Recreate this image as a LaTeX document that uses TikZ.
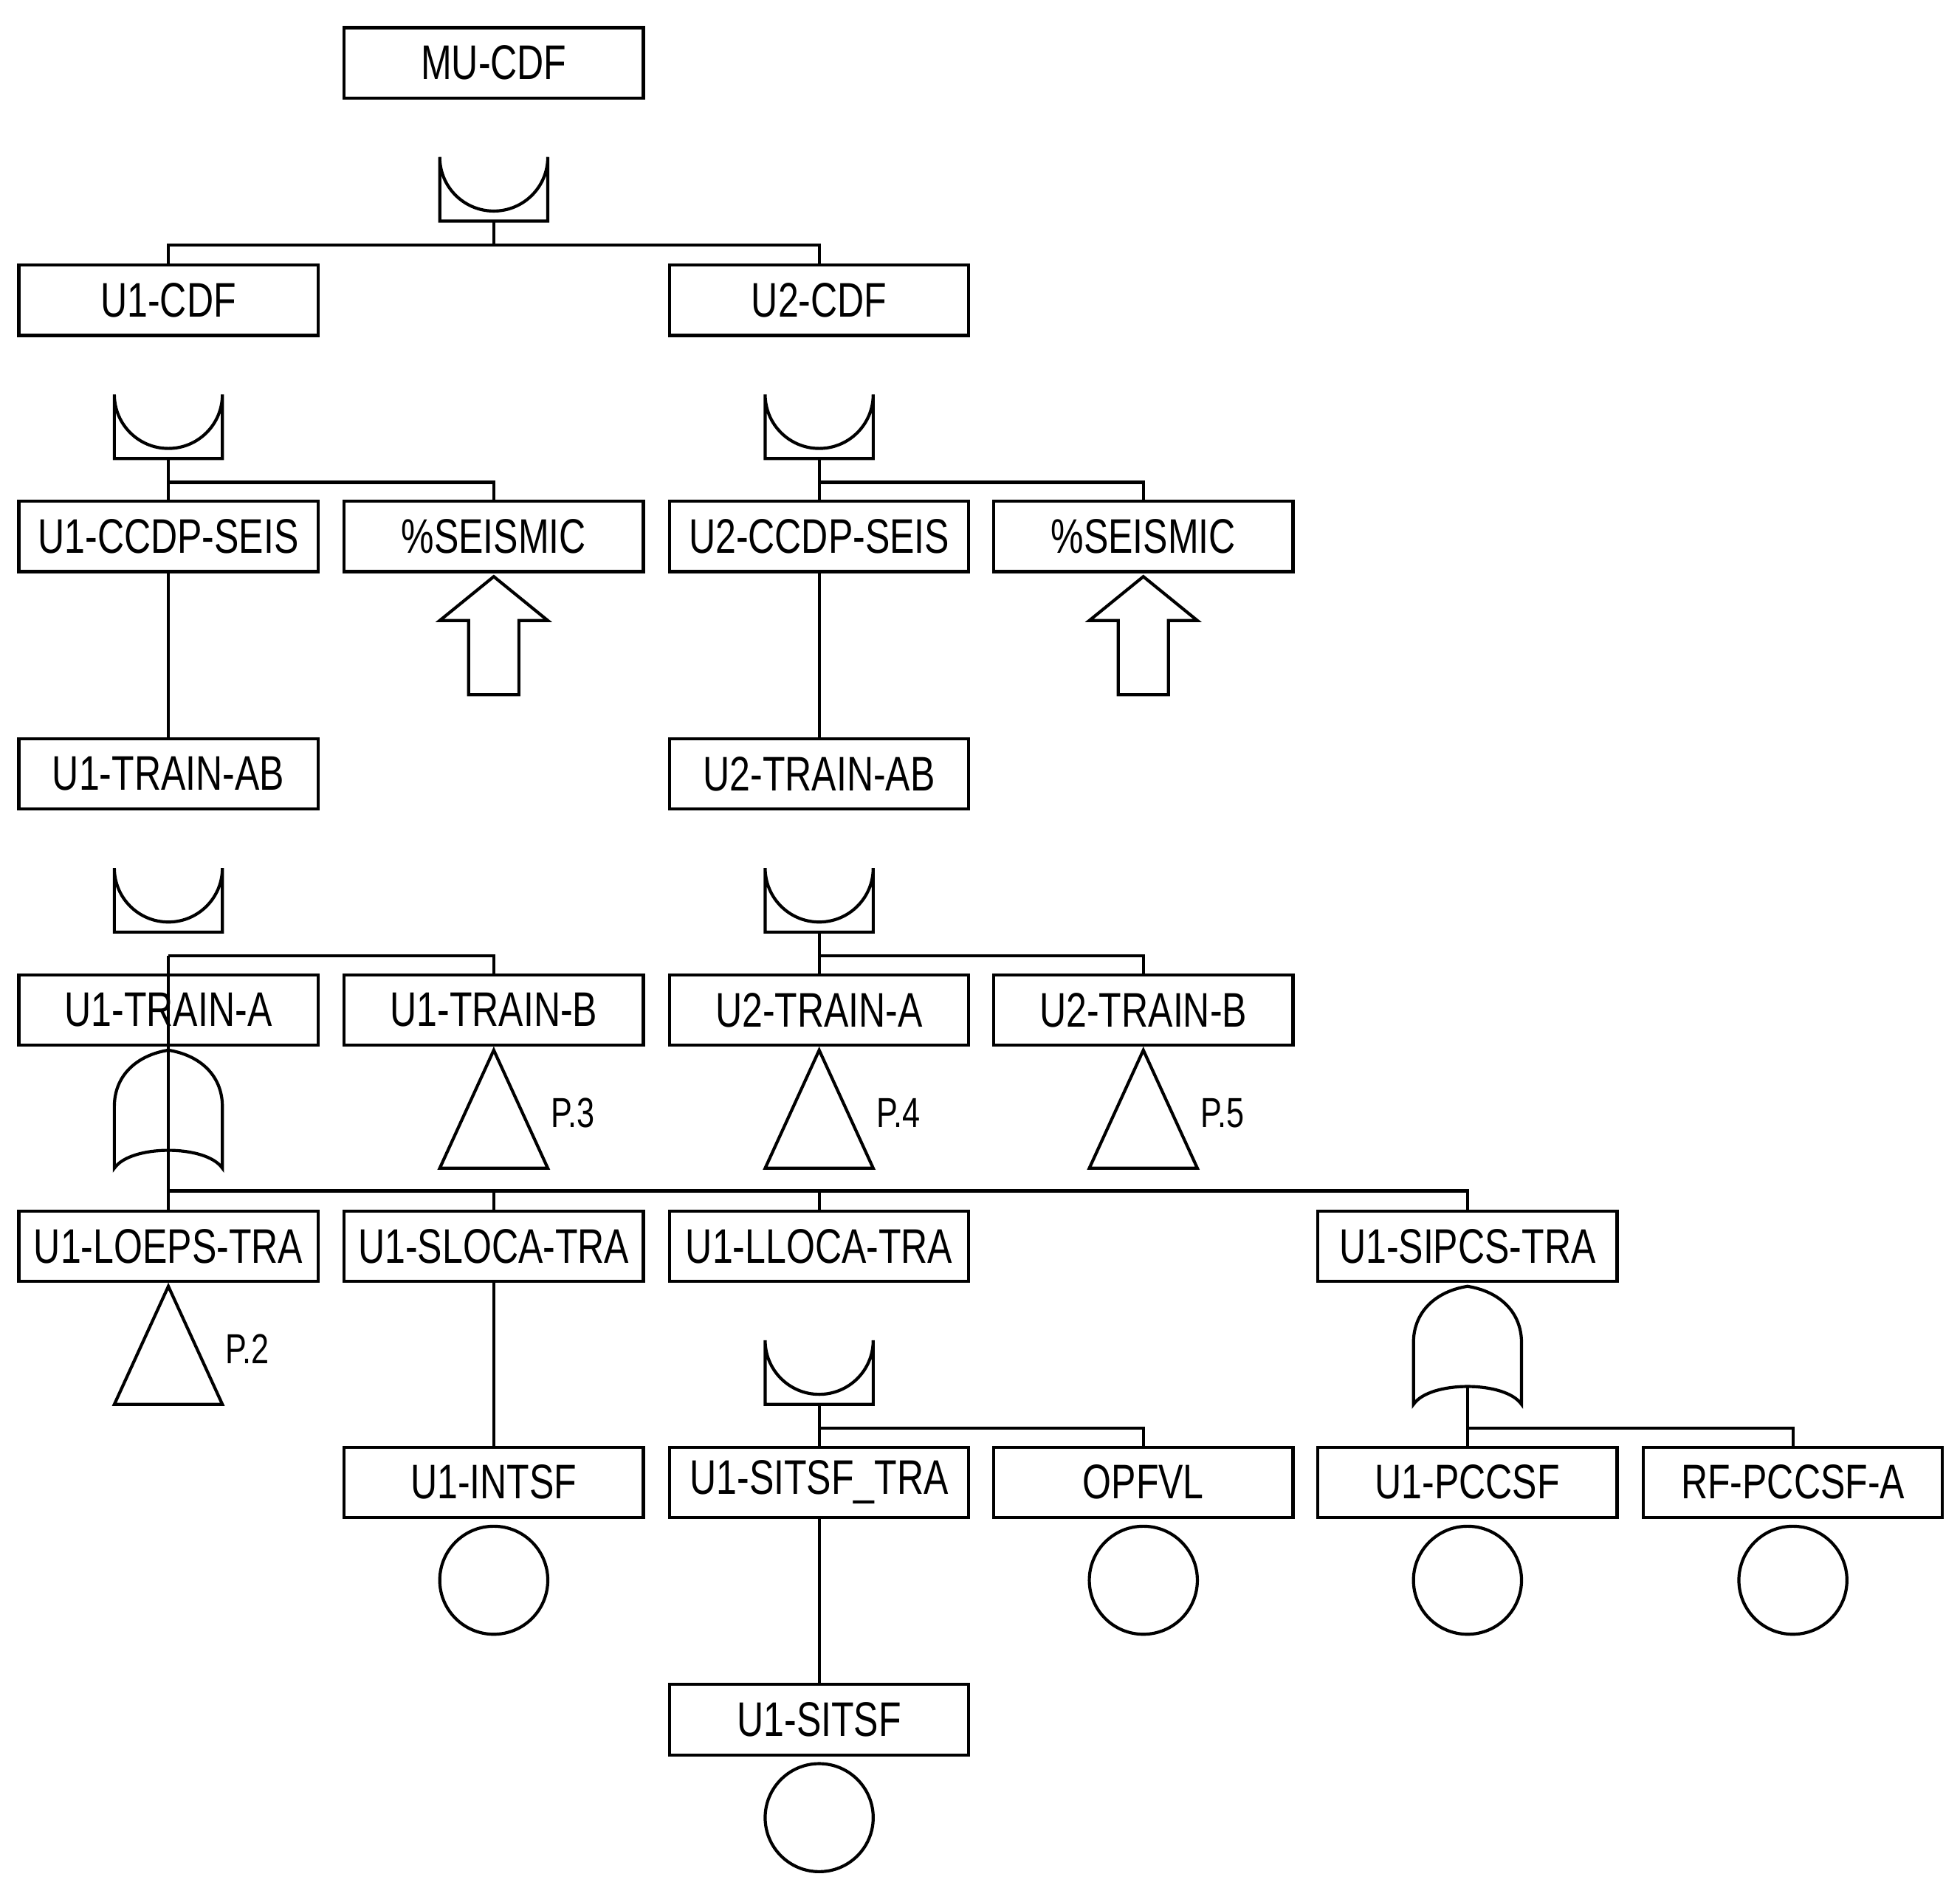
\documentclass[tikz,border=0pt]{standalone}
\usepackage{fontspec}
\setmainfont{Liberation Sans}[FakeStretch=0.76]
\begin{document}
\begin{tikzpicture}[x=0.01cm,y=-0.01cm,line width=0.7pt,
  box/.style={draw,rectangle,minimum width=2.38cm,minimum height=0.56cm,inner sep=0pt,font=\fontsize{11}{13}\selectfont,fill=white},
  lbl/.style={font=\fontsize{9.5}{11}\selectfont,anchor=center}]
\useasboundingbox (0,0) rectangle (1560,1514);
% gate macros: #1 x centre, #2 box top, #3 name
\newcommand\myAND[3]{\draw (#1-43,#2+154) -- (#1-43,#2+103) arc[start angle=180,end angle=0,radius=43] -- (#1+43,#2+154) -- cycle; \coordinate (#3) at (#1,#2+154); \coordinate (#3b) at (#1,#2+173);}
\newcommand\myOR[3]{\draw (#1-43,#2+154) -- (#1-43,#2+105) .. controls (#1-43,#2+80) and (#1-25,#2+64) .. (#1,#2+60) .. controls (#1+25,#2+64) and (#1+43,#2+80) .. (#1+43,#2+105) -- (#1+43,#2+154) .. controls (#1+30,#2+135) and (#1-30,#2+135) .. cycle; \coordinate (#3) at (#1,#2+140); \coordinate (#3b) at (#1,#2+173);}
\newcommand\myTRI[4]{\draw (#1,#2+60) -- (#1+43,#2+154) -- (#1-43,#2+154) -- cycle; \node[lbl] (#3) at (#1+63,#2+110) {#4};}
\newcommand\myXFER[2]{\draw (#1,#2+60) -- (#1+43,#2+95) -- (#1+20,#2+95) -- (#1+20,#2+154) -- (#1-20,#2+154) -- (#1-20,#2+95) -- (#1-43,#2+95) -- cycle;}
\newcommand\myCIRC[2]{\draw (#1,#2+106) circle[radius=43];}
% boxes
\node[box] (mu) at (393,50) {MU-CDF};
\node[box] (u1cdf) at (134,239) {U1-CDF};
\node[box] (u2cdf) at (652,239) {U2-CDF};
\node[box] (u1ccdp) at (134,427) {U1-CCDP-SEIS};
\node[box] (s1) at (393,427) {\%SEISMIC};
\node[box] (u2ccdp) at (652,427) {U2-CCDP-SEIS};
\node[box] (s2) at (910,427) {\%SEISMIC};
\node[box] (u1ab) at (134,616) {U1-TRAIN-AB};
\node[box] (u2ab) at (652,616) {U2-TRAIN-AB};
\node[box] (u1a) at (134,804) {U1-TRAIN-A};
\node[box] (u1b) at (393,804) {U1-TRAIN-B};
\node[box] (u2a) at (652,804) {U2-TRAIN-A};
\node[box] (u2b) at (910,804) {U2-TRAIN-B};
\node[box] (loeps) at (134,992) {U1-LOEPS-TRA};
\node[box] (sloca) at (393,992) {U1-SLOCA-TRA};
\node[box] (lloca) at (652,992) {U1-LLOCA-TRA};
\node[box] (sipcs) at (1168,992) {U1-SIPCS-TRA};
\node[box] (intsf) at (393,1180) {U1-INTSF};
\node[box] (sitsft) at (652,1180) {U1-SITSF\_TRA};
\node[box] (opfvl) at (910,1180) {OPFVL};
\node[box] (pccsf) at (1168,1180) {U1-PCCSF};
\node[box] (rf) at (1427,1180) {RF-PCCSF-A};
\node[box] (sitsf) at (652,1369) {U1-SITSF};
% gates
\myAND{393}{22}{gmu}
\myAND{134}{211}{gu1}
\myAND{652}{211}{gu2}
\myXFER{393}{399}
\myXFER{910}{399}
\myAND{134}{588}{gu1ab}
\myAND{652}{588}{gu2ab}
\myOR{134}{776}{gu1a}
\myTRI{393}{776}{p3}{P.3}
\myTRI{652}{776}{p4}{P.4}
\myTRI{910}{776}{p5}{P.5}
\myTRI{134}{964}{p2}{P.2}
\myAND{652}{964}{glloca}
\myOR{1168}{964}{gsipcs}
\myCIRC{393}{1152}
\myCIRC{910}{1152}
\myCIRC{1168}{1152}
\myCIRC{1427}{1152}
\myCIRC{652}{1341}
% connectors
\draw (gmu) -- (gmub) -| (u1cdf.north); \draw (gmub) -| (u2cdf.north);
\draw (gu1) -- (gu1b) -| (u1ccdp.north); \draw (gu1b) -| (s1.north);
\draw (gu2) -- (gu2b) -| (u2ccdp.north); \draw (gu2b) -| (s2.north);
\draw (u1ccdp.south) -- (u1ab.north);
\draw (u2ccdp.south) -- (u2ab.north);
\draw (gu1ab) -- (gu1abb) -| (u1a.north); \draw (gu1abb) -| (u1b.north);
\draw (gu2ab) -- (gu2abb) -| (u2a.north); \draw (gu2abb) -| (u2b.north);
\draw (gu1a) -- (gu1ab |- loeps.north); \draw (gu1ab) ++(0,0);
\draw (gu1ab |- gu1ab) ++(0,0);
\draw (gu1ab |- 0,948) -| (sloca.north);
\draw (gu1ab |- 0,948) -| (lloca.north);
\draw (gu1ab |- 0,948) -| (sipcs.north);
\draw (sloca.south) -- (intsf.north);
\draw (glloca) -- (gllocab) -| (sitsft.north); \draw (gllocab) -| (opfvl.north);
\draw (gsipcs) -- (gsipcsb) -| (pccsf.north); \draw (gsipcsb) -| (rf.north);
\draw (sitsft.south) -- (sitsf.north);
\end{tikzpicture}
\end{document}
